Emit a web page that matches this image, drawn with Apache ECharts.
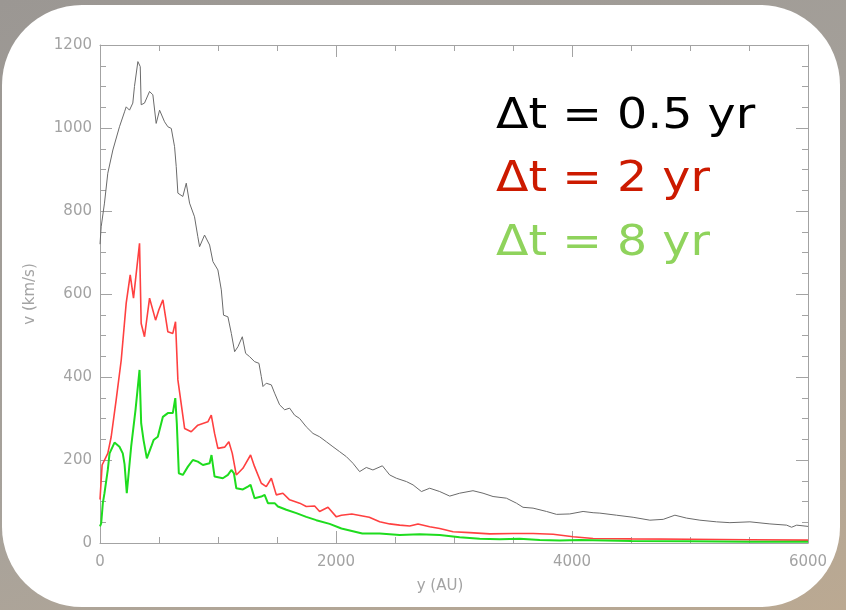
<!doctype html>
<html lang="en">
<head>
    <meta charset="UTF-8">
    <title>v vs y</title>
    <style>
        *{
            margin:0;
            padding:0;
        }
        html,body {
            width:846px;
            height:610px;
            overflow:hidden;
        }
        body{
            background: linear-gradient(160deg, #9b9793 0%, #a7a29b 55%, #bba992 100%);
            position:relative;
        }
        #panel{
            position:absolute;
            left:2px;
            top:5px;
            width:838px;
            height:602px;
            border-radius:80px;
            background:#fff;
        }
        #main{
            position:absolute;
            left:0;
            top:0;
            width:846px;
            height:610px;
        }
    </style>
</head>
<body>

<div id="panel"></div>
<div id="main"></div>
<script src="https://cdn.jsdelivr.net/npm/echarts@6/dist/echarts.min.js"></script>
<script>

    // dt = 0.5 yr
    var blackX = [0, 10, 38, 66, 109, 165, 208, 222, 250, 278, 292, 321, 341, 349, 377, 420, 448, 476, 505, 547,
        575, 604, 632, 646, 660, 702, 731, 759, 801, 829, 844, 886, 929, 957, 999, 1028, 1047, 1084, 1113, 1141,
        1169, 1206, 1234, 1268, 1310, 1347, 1367, 1381, 1409, 1452, 1480, 1522, 1565, 1607, 1649, 1692, 1748, 1805,
        1861, 1918, 1974, 2031, 2088, 2144, 2200, 2257, 2313, 2393, 2427, 2455, 2512, 2597, 2653, 2724, 2794, 2879,
        2964, 3048, 3161, 3246, 3331, 3444, 3529, 3585, 3670, 3784, 3869, 3981, 4094, 4179, 4236, 4377, 4518, 4660,
        4773, 4872, 4971, 5084, 5225, 5338, 5508, 5677, 5819, 5861, 5904, 6000];
    var blackV = [720, 762, 819, 891, 947, 1003, 1039, 1051, 1043, 1060, 1100, 1160, 1148, 1056, 1060, 1088, 1080, 1011, 1043, 1015,
        1003, 999, 955, 907, 843, 835, 867, 819, 786, 738, 714, 742, 718, 678, 658, 610, 549, 545, 505, 461,
        473, 497, 457, 449, 437, 433, 401, 377, 385, 381, 361, 333, 321, 325, 308, 300, 280, 264,
        256, 244, 232, 220, 208, 192, 172, 182, 176, 186, 174, 164, 156, 148, 140, 124, 132, 124,
        113, 120, 126, 120, 112, 108, 96, 86, 84, 76, 69, 70, 76, 73, 72, 67, 62, 55,
        57, 67, 60, 55, 51, 49, 51, 46, 43, 38, 43, 40];

    // dt = 2 yr
    var redX = [0, 18, 66, 95, 137, 180, 222, 256, 284, 335, 349, 377, 420, 471, 499, 533, 575, 617, 640, 660,
        717, 773, 829, 914, 943, 971, 999, 1056, 1092, 1121, 1155, 1211, 1276, 1310, 1367, 1409, 1452, 1494, 1550, 1607,
        1692, 1748, 1819, 1861, 1932, 2003, 2046, 2134, 2282, 2370, 2455, 2540, 2625, 2695, 2794, 2879, 2992, 3133,
        3303, 3501, 3670, 3840, 4010, 4179, 4500, 5000, 5500, 6000];
    var redV = [105, 188, 216, 256, 345, 441, 578, 646, 590, 722, 529, 497, 590, 537, 562, 586, 509, 505, 533, 393,
        276, 268, 284, 292, 308, 264, 228, 231, 244, 216, 164, 180, 212, 184, 144, 136, 156, 116, 120, 104,
        96, 88, 89, 76, 86, 63, 67, 70, 62, 51, 46, 43, 41, 46, 39, 35, 27, 25,
        22, 23, 23, 21, 15, 11, 10, 9, 8, 7];

    // dt = 8 yr
    var greenX = [0, 10, 24, 38, 66, 81, 123, 165, 193, 208, 227, 264, 301, 335, 349, 369, 397, 434, 454, 490,
        533, 575, 617, 638, 651, 668, 702, 745, 787, 829, 872, 929, 945, 971, 1041, 1084, 1113, 1135, 1155, 1211,
        1253, 1276, 1310, 1367, 1395, 1423, 1480, 1508, 1579, 1664, 1748, 1833, 1946, 2046, 2223, 2370, 2540, 2709,
        2879, 3048, 3218, 3388, 3557, 3727, 3896, 4066, 4500, 5000, 5500, 6000];
    var greenV = [40, 47, 96, 120, 176, 216, 242, 232, 216, 190, 120, 232, 321, 417, 288, 248, 204, 232, 248, 256,
        304, 313, 313, 349, 288, 168, 164, 184, 200, 196, 188, 192, 212, 160, 156, 164, 176, 168, 132, 129,
        136, 140, 108, 112, 116, 96, 96, 88, 80, 72, 63, 55, 46, 35, 23, 23, 19, 21,
        19, 14, 10, 9, 10, 7, 6, 7, 5, 4, 3, 3];

    var legendLabels = ['\u0394t = 0.5 yr', '\u0394t = 2 yr', '\u0394t = 8 yr'];
    var legendColors = ['#000000', '#cc1a00', '#8fd35c'];

    function pairs(xs, vs) {
        return xs.map(function (x, i) { return [x, vs[i]]; });
    }

    var axisGray = '#a3a3a3';
    var labelFont = {color: '#a3a3a3', fontSize: 15, fontFamily: 'DejaVu Sans'};

    function makeAxis(pos, min, max, interval, showLabel) {
        return {
            type: 'value',
            position: pos,
            min: min,
            max: max,
            interval: interval,
            axisLine: {show: true, onZero: false, lineStyle: {color: axisGray, width: 1}},
            axisTick: {show: true, inside: true, length: 12, lineStyle: {color: axisGray, width: 1}},
            minorTick: {show: true, splitNumber: 4, length: 6, lineStyle: {color: axisGray, width: 1}},
            splitLine: {show: false},
            minorSplitLine: {show: false},
            axisLabel: showLabel ? Object.assign({
                show: true,
                margin: 12,
                formatter: function (v) { return String(v); }
            }, labelFont) : {show: false}
        };
    }

    var xBottom = makeAxis('bottom', 0, 6000, 2000, true);
    xBottom.name = 'y (AU)';
    xBottom.nameLocation = 'middle';
    xBottom.nameGap = 36;
    xBottom.nameTextStyle = {color: '#a3a3a3', fontSize: 15, fontFamily: 'DejaVu Sans', padding: [0, 28, 0, 0]};

    var yLeft = makeAxis('left', 0, 1200, 200, true);
    yLeft.axisLabel.margin = 8;
    yLeft.name = 'v (km/s)';
    yLeft.nameLocation = 'middle';
    yLeft.nameGap = 62;
    yLeft.nameTextStyle = {color: '#a3a3a3', fontSize: 15, fontFamily: 'DejaVu Sans'};

    var myChart = echarts.init(document.getElementById('main'), null, {renderer: 'canvas'});

    myChart.setOption({
        backgroundColor: 'transparent',
        animation: false,
        grid: {left: 100, right: 38, top: 45, bottom: 67, containLabel: false},
        xAxis: [xBottom, makeAxis('top', 0, 6000, 2000, false)],
        yAxis: [yLeft, makeAxis('right', 0, 1200, 200, false)],
        graphic: legendLabels.map(function (t, i) {
            return {
                type: 'text',
                x: 496,
                y: 117 + i * 63.5,
                scaleX: 1.13,
                z: 10,
                style: {
                    text: t,
                    fill: legendColors[i],
                    fontSize: 42,
                    fontFamily: 'DejaVu Sans',
                    verticalAlign: 'middle'
                }
            };
        }),
        series: [
            {
                type: 'line',
                data: pairs(blackX, blackV),
                showSymbol: false,
                symbol: 'none',
                lineStyle: {color: '#6a6a6a', width: 1},
                xAxisIndex: 0,
                yAxisIndex: 0
            },
            {
                type: 'line',
                data: pairs(redX, redV),
                showSymbol: false,
                symbol: 'none',
                lineStyle: {color: '#ff4040', width: 1.6},
                xAxisIndex: 0,
                yAxisIndex: 0
            },
            {
                type: 'line',
                data: pairs(greenX, greenV),
                showSymbol: false,
                symbol: 'none',
                lineStyle: {color: '#1edc1e', width: 2},
                xAxisIndex: 0,
                yAxisIndex: 0
            }
        ]
    });

</script>
</body>
</html>
